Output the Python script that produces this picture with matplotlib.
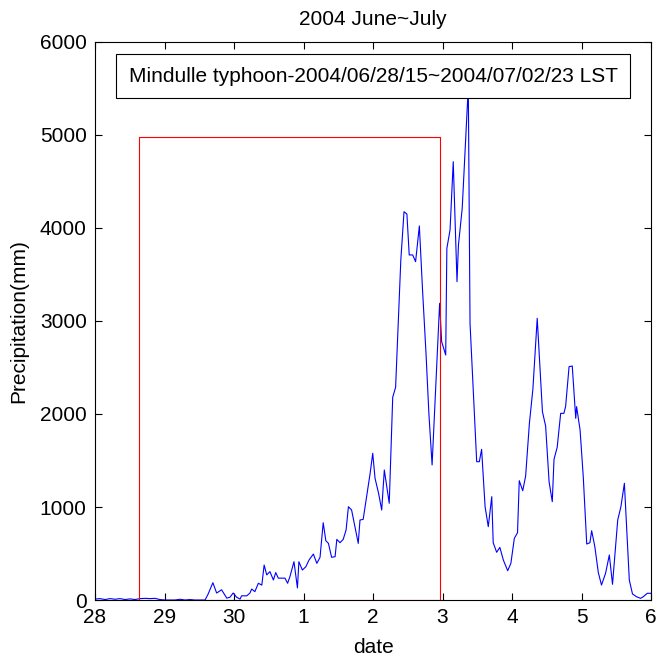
import matplotlib.pyplot as plt

plt.rcParams['font.family'] = ['Liberation Sans', 'DejaVu Sans']

# hourly precipitation, hours counted from 2004/06/28 00 LST
hours = [0.0, 1.7, 3.5, 5.2, 6.9, 8.6, 10.4, 12.1, 13.8, 15.5, 17.3, 19.0, 20.7, 22.4,
         24.2, 27.6, 29.4, 31.1, 32.8, 34.5, 36.3, 38.0, 39.0, 40.7, 42.0, 43.7, 45.5,
         46.6, 47.7, 48.9, 50.1, 50.6, 52.4, 53.5, 54.1, 55.2, 56.4, 57.6, 58.4, 59.3,
         60.4, 61.6, 62.4, 63.3, 65.6, 66.5, 67.3, 68.7, 69.9, 70.4, 71.6, 72.8, 73.9,
         75.4, 76.6, 77.7, 78.8, 79.7, 80.6, 81.7, 82.9, 83.5, 84.6, 85.7, 86.7, 87.5,
         88.6, 90.9, 91.5, 92.6, 95.0, 95.9, 96.7, 97.9, 99.0, 99.9, 101.6, 102.8,
         103.8, 105.6, 106.7, 107.7, 108.5, 109.7, 110.7, 112.0, 113.1, 114.3, 115.3,
         116.4, 119.0, 119.7, 121.1, 121.5, 122.6, 123.7, 125.0, 125.5, 126.8, 128.9,
         129.5, 131.8, 132.7, 133.5, 134.7, 135.8, 137.0, 137.5, 138.7, 139.8, 141.0,
         142.5, 143.6, 144.8, 145.9, 146.5, 147.7, 148.7, 150.0, 151.2, 152.7, 154.5,
         155.6, 156.8, 157.9, 158.5, 159.6, 160.8, 161.9, 162.5, 163.7, 164.8, 166.0,
         166.3, 167.5, 168.6, 169.8, 170.9, 171.5, 172.6, 173.8, 174.9, 176.3, 177.6,
         178.7, 180.5, 181.6, 182.8, 184.5, 185.6, 187.0, 188.4, 189.3, 190.7, 191.9]
rain = [10, 15, 5, 15, 8, 15, 5, 12, 5, 15, 18, 15, 18, 5,
        0, 0, 8, 0, 5, 0, 0, 0, 60, 186, 75, 110, 20,
        30, 75, 30, 10, 45, 45, 75, 118, 90, 180, 160, 376, 270,
        305, 215, 295, 235, 235, 180, 250, 412, 130, 412, 322, 358, 430,
        494, 394, 459, 831, 638, 609, 459, 466, 652, 616, 652, 753, 1003,
        968, 609, 860, 867, 1362, 1577, 1308, 1150, 968, 1398, 1040, 2180,
        2287, 3656, 4175, 4150, 3710, 3710, 3638, 4022, 3333, 2650, 2000,
        1452, 3190, 2778, 2634, 3782, 3978, 4713, 3423, 3817, 4212, 5520,
        2975, 1487, 1487, 1620, 1003, 788, 1111, 616, 513, 566, 430,
        315, 394, 663, 724, 1283, 1175, 1333, 1900, 2266, 3029, 2025,
        1871, 1272, 1057, 1513, 1642, 2007, 2007, 2079, 2509, 2516, 1953,
        2079, 1828, 1326, 602, 616, 745, 573, 294, 161, 287, 484,
        169, 860, 1003, 1255, 215, 65, 35, 18, 35, 72, 72]

# typhoon period box (28th 15h to 2nd 23h)
box_x = [15.2, 15.2, 119, 119, 15.2]
box_y = [0, 4975, 4975, 0, 0]

tick_pos = [0, 24, 48, 72, 96, 120, 144, 168, 192]
tick_lab = ['28', '29', '30', '1', '2', '3', '4', '5', '6']

fig = plt.figure(figsize=(6.58, 6.60), dpi=100)
ax = fig.add_axes([0.1444, 0.0909, 0.8450, 0.8455])

ax.plot(hours, rain, color='blue', linewidth=0.8)
ax.plot(box_x, box_y, color='red', linewidth=0.8)

ax.set_xlim(0, 192)
ax.set_ylim(0, 6000)
ax.set_xticks(tick_pos)
ax.set_xticklabels(tick_lab)
ax.set_yticks(range(0, 6001, 1000))
ax.tick_params(direction='in', top=True, right=True, labelsize=15, length=5)
ax.tick_params(axis='x', pad=6)
ax.tick_params(axis='y', pad=6)

ax.set_title('2004 June~July', fontsize=15, pad=12)
ax.set_xlabel('date', fontsize=15, labelpad=8)
ax.set_ylabel('Precipitation(mm)', fontsize=15, labelpad=8)

ax.text(0.5, 0.939, 'Mindulle typhoon-2004/06/28/15~2004/07/02/23 LST',
        transform=ax.transAxes, ha='center', va='center', fontsize=15,
        bbox=dict(boxstyle='square,pad=0.6', facecolor='white', edgecolor='black', linewidth=0.8))

fig.savefig('out.png', dpi=100)
